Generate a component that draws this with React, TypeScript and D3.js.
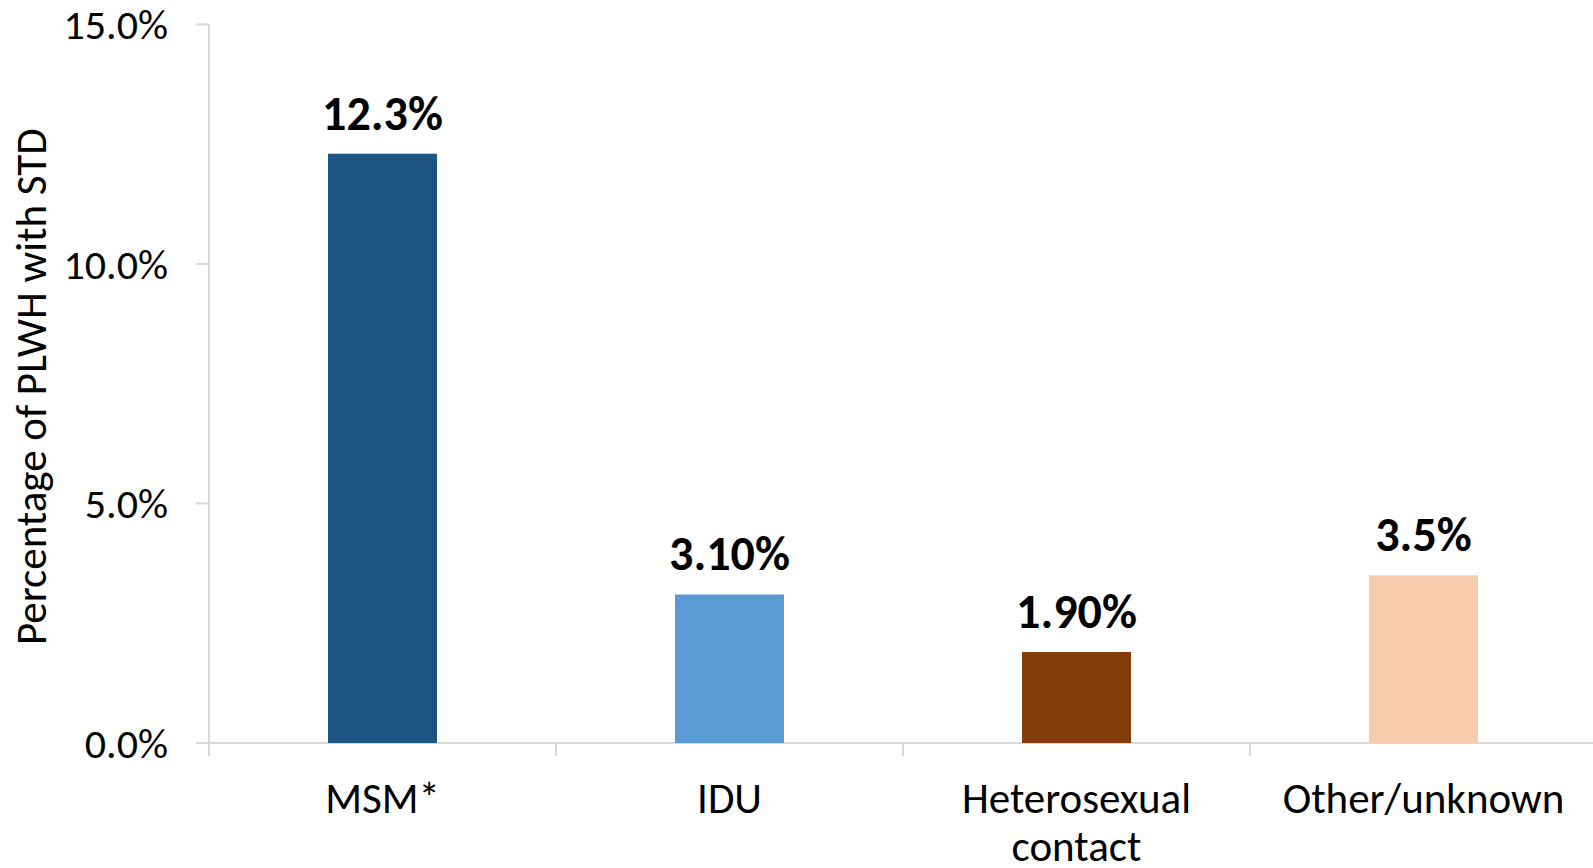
import React from "react";
import * as d3 from "d3";

const categories: string[][] = [["MSM*"], ["IDU"], ["Heterosexual", "contact"], ["Other/unknown"]];
const values: number[] = [12.3, 3.1, 1.9, 3.5];
const valueLabels: string[] = ["12.3%", "3.10%", "1.90%", "3.5%"];
const colors: string[] = ["#1D5481", "#5B9BD5", "#843C0C", "#F8CBAD"];
const yTicks: number[] = [0, 5, 10, 15];
const yTitle = "Percentage of PLWH with STD";

const W = 1593;
const H = 868;
const FONT = "Carlito, Calibri, 'Liberation Sans Narrow', Lato, 'Noto Sans', sans-serif";

export default function App() {
  const left = 209;
  const right = 1597;
  const top = 24.4;
  const bottom = 743;
  const x = d3.scaleBand<number>().domain(d3.range(values.length)).range([left, right]).paddingInner(0.686).paddingOuter(0.343);
  const step = (right - left) / values.length;
  const y = d3.scaleLinear().domain([0, 15]).range([bottom, top]);
  const axisColor = "#D9D9D9";
  return (
    <svg width={W} height={H} style={{ position: "absolute", left: 0, top: 0, background: "#fff" }} fontFamily={FONT}>
      {/* y axis */}
      <line x1={left} x2={left} y1={y(15)} y2={bottom} stroke={axisColor} strokeWidth={2} />
      {yTicks.map((t) => (
        <g key={t}>
          <line x1={left - 13} x2={left} y1={y(t)} y2={y(t)} stroke={axisColor} strokeWidth={2} />
          <text x={168} y={y(t)} dy="0.35em" textAnchor="end" fontSize={42} fill="#000">
            {d3.format(".1f")(t) + "%"}
          </text>
        </g>
      ))}
      {/* x axis */}
      <line x1={left - 13} x2={W} y1={bottom} y2={bottom} stroke={axisColor} strokeWidth={2} />
      {d3.range(values.length + 1).map((i) => (
        <line key={i} x1={left + i * step} x2={left + i * step} y1={bottom} y2={bottom + 13} stroke={axisColor} strokeWidth={2} />
      ))}
      {/* bars */}
      {values.map((v, i) => (
        <g key={i}>
          <rect x={x(i)} y={y(v)} width={x.bandwidth()} height={bottom - y(v)} fill={colors[i]} />
          <text x={(x(i) as number) + x.bandwidth() / 2} y={y(v) - 24} textAnchor="middle" fontSize={48} fontWeight="bold" fill="#000">
            {valueLabels[i]}
          </text>
          <text textAnchor="middle" fontSize={43} fill="#000">
            {categories[i].map((line, j) => (
              <tspan key={j} x={(x(i) as number) + x.bandwidth() / 2} y={813 + j * 48}>
                {line}
              </tspan>
            ))}
          </text>
        </g>
      ))}
      {/* y title */}
      <text transform={`translate(46, ${(top + bottom) / 2 + 3}) rotate(-90)`} textAnchor="middle" fontSize={43} fill="#000">
        {yTitle}
      </text>
    </svg>
  );
}
